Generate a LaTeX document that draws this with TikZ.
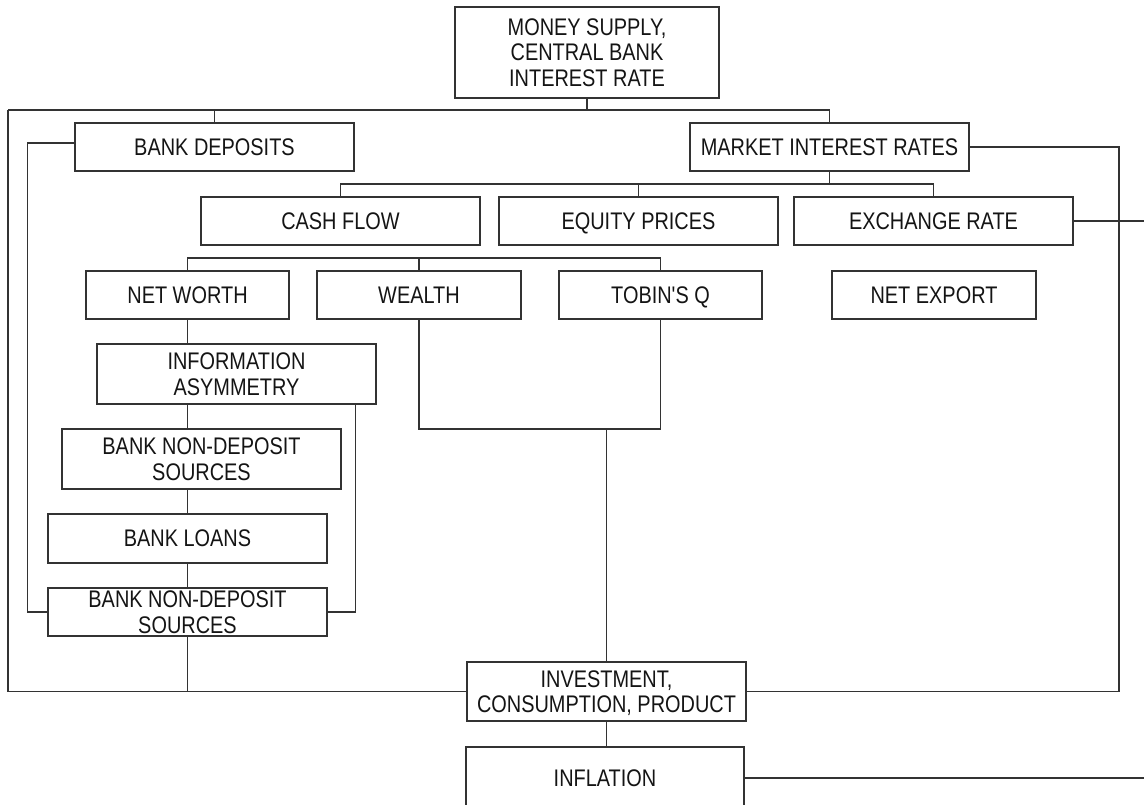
\documentclass[tikz,border=0pt]{standalone}
\usepackage{fontspec}
\setmainfont{Liberation Sans}[FakeStretch=0.83, Ligatures=TeXOff]
\usetikzlibrary{calc}
\tikzset{
  bx/.style={draw=black!80, line width=1.2pt, inner sep=0pt, align=center,
    text=black!92, font=\fontsize{24}{25.5}\selectfont},
  one/.style={text height=16.5pt, text depth=0pt},
  ln/.style={draw=black!80, line width=1.2pt}
}
\begin{document}
\begin{tikzpicture}[x=1pt,y=-1pt]
\useasboundingbox (0,0) rectangle (1144,805);
\clip (0,0) rectangle (1144,805);
% boxes
\node[bx, minimum width=264pt, minimum height=91pt] (ms) at (587,52.5) {MONEY SUPPLY,\\CENTRAL BANK\\INTEREST RATE};
\node[bx, one, minimum width=279pt, minimum height=48pt] (bd) at (214.5,147) {BANK DEPOSITS};
\node[bx, one, minimum width=279pt, minimum height=48pt] (mir) at (829.5,147) {MARKET INTEREST RATES};
\node[bx, one, minimum width=279pt, minimum height=48pt] (cf) at (340.5,221) {CASH FLOW};
\node[bx, one, minimum width=279pt, minimum height=48pt] (ep) at (638.5,221) {EQUITY PRICES};
\node[bx, one, minimum width=279pt, minimum height=48pt] (er) at (933.5,221) {EXCHANGE RATE};
\node[bx, one, minimum width=203pt, minimum height=48pt] (nw) at (187.5,295) {NET WORTH};
\node[bx, one, minimum width=204pt, minimum height=48pt] (we) at (419,295) {WEALTH};
\node[bx, one, minimum width=203pt, minimum height=48pt] (tq) at (660.5,295) {TOBIN'S Q};
\node[bx, one, minimum width=204pt, minimum height=48pt] (ne) at (934,295) {NET EXPORT};
\node[bx, minimum width=279pt, minimum height=60pt] (ia) at (236.5,374) {INFORMATION\\ASYMMETRY};
\node[bx, minimum width=279pt, minimum height=60pt] (bn1) at (201.5,459) {BANK NON-DEPOSIT\\SOURCES};
\node[bx, one, minimum width=279pt, minimum height=49pt] (bl) at (187.5,538.5) {BANK LOANS};
\node[bx, minimum width=279pt, minimum height=48pt] (bn2) at (187.5,612) {BANK NON-DEPOSIT\\SOURCES};
\node[bx, text depth=0pt, minimum width=279pt, minimum height=59pt] (inv) at (606.5,691.5) {INVESTMENT,\\CONSUMPTION, PRODUCT};
\node[bx, one, minimum width=278pt, minimum height=62pt] (inf) at (605,778) {INFLATION};
% helper coordinates
\coordinate (L) at (8,110);
\coordinate (R) at (830,110);
\coordinate (m2) at (0,184);
\coordinate (b3) at (0,258);
\coordinate (b4) at (0,429);
\coordinate (rx) at (1119,400);
\coordinate (erend) at (1144,221);
% connectors
\draw[ln] (L) -- (R);
\draw[ln] (ms.south) -- (ms.south |- L);
\draw[ln] (bd.north) -- (bd.north |- L);
\draw[ln] (mir.north) -- (mir.north |- L);
\draw[ln] (L) |- (inv.west);
\draw[ln] ([yshift=4pt]bd.west) -| ($(bn2.west)+(-20,0)$) -- (bn2.west);
\draw[ln] (mir.east) -| (rx) |- (inv.east);
\draw[ln] (mir.south) -- (mir.south |- m2);
\draw[ln] (cf.north) -- (cf.north |- m2) -- (er.north |- m2) -- (er.north);
\draw[ln] (ep.north) -- (ep.north |- m2);
\draw[ln] (er.east) -- (erend);
\draw[ln] (nw.north) -- (nw.north |- b3) -- (tq.north |- b3) -- (tq.north);
\draw[ln] (we.north) -- (we.north |- b3);
\draw[ln] (nw.south) -- (nw.south |- ia.north);
\draw[ln] (ia.south -| nw.south) -- (bn1.north -| nw.south);
\draw[ln] (bn1.south -| bl.north) -- (bl.north);
\draw[ln] (bl.south) -- (bn2.north);
\draw[ln] (bn2.south) -- (bn2.south |- inv.west);
\draw[ln] ($(ia.south east)+(-21,0)$) |- (bn2.east);
\draw[ln] (we.south) |- (tq.south |- b4) -- (tq.south);
\draw[ln] (inv.north |- b4) -- (inv.north);
\draw[ln] (inv.south) -- (inv.south |- inf.north);
\draw[ln] (inf.east) -- (inf.east -| erend);
\end{tikzpicture}
\end{document}
